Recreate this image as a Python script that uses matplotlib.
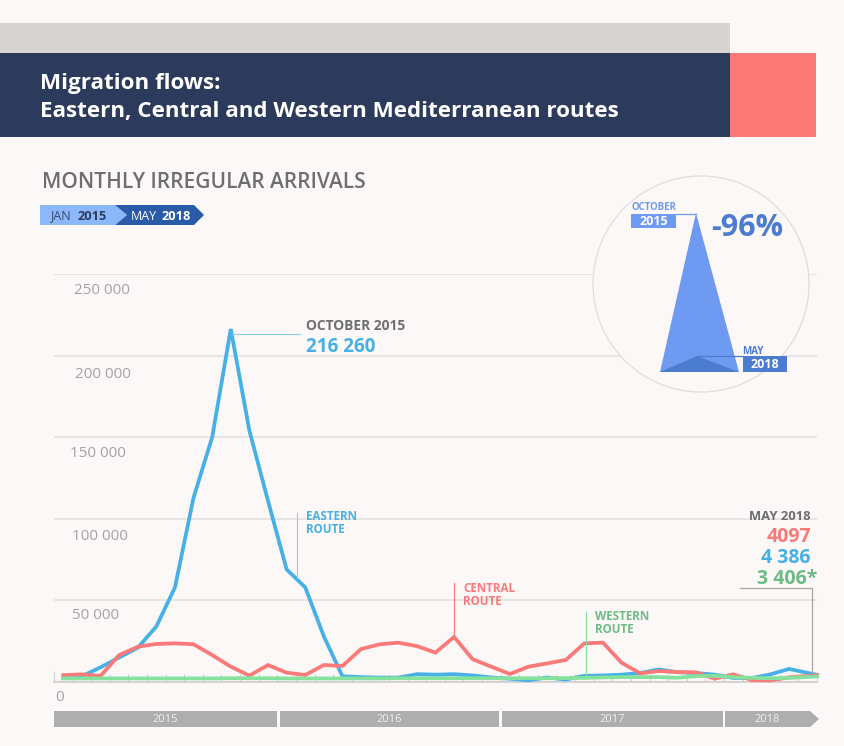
import matplotlib
matplotlib.use("Agg")
import matplotlib.pyplot as plt
from matplotlib.patches import Polygon, Rectangle, Circle
import numpy as np

BG = "#FCF8F7"
eastern = [2500, 3500, 9000, 15000, 21000, 34000, 58000, 113000, 150000, 216260,
           154000, 111000, 69000, 58000, 28000, 3500, 3000, 2700, 2700, 4800,
           4500, 4800, 4000, 2800, 2000, 1000, 2800, 1500, 3800, 4000,
           4500, 5500, 7700, 6000, 5500, 4500, 2500, 2400, 4700, 8000, 4386]
central = [4200, 4700, 3700, 16500, 21600, 23300, 23700, 23100, 16500, 9400,
           3900, 10400, 5700, 4300, 10400, 9800, 20200, 23100, 24100, 22000,
           18000, 27600, 13900, 9400, 4900, 9400, 11400, 13500, 23700, 24100,
           11800, 5300, 6700, 6100, 5900, 2000, 4700, 1200, 1000, 2900, 4097]
western = [2200, 2200, 2200, 2200, 2200, 2200, 2200, 2200, 2200, 2300,
           2300, 2300, 2200, 2200, 2200, 2200, 2200, 2200, 2300, 2300,
           2300, 2300, 2300, 2300, 2300, 2300, 2300, 2400, 2500, 2800,
           3000, 3000, 3000, 2600, 3600, 3800, 3000, 2500, 2300, 2500, 3406]
# The last month is drawn to the right end of the time band
months = np.r_[np.arange(40), 40.5]
y_ticks = [0, 50000, 100000, 150000, 200000, 250000]
y_labels = [("250 000", 74, 289), ("200 000", 75, 373), ("150 000", 70, 452),
            ("100 000", 72, 535), ("50 000", 72, 614), ("0", 55, 696)]
years = [("2015", 54, 277), ("2016", 280, 499), ("2017", 502, 723), ("2018", 725, 810)]

W, H = 845, 746
fig = plt.figure(figsize=(W / 100, H / 100), dpi=100, facecolor=BG)
plt.rcParams["font.family"] = ["Open Sans", "DejaVu Sans"]

# Data axes
L, R, T, B = 54, 817, 274, 682
ax = fig.add_axes([L / W, 1 - B / H, (R - L) / W, (B - T) / H], zorder=1, facecolor="none")
ax.set_xlim(-0.5, 40.5)
ax.set_ylim(0, 250000)
ax.set_axisbelow(True)
ax.set_yticks(y_ticks)
ax.set_yticklabels([])
ax.tick_params(axis="y", length=0)
ax.set_xticks(np.arange(-0.5, 41))
ax.set_xticklabels([])
ax.tick_params(axis="x", direction="in", length=6, width=0.7, color="#CFCBCA")
ax.grid(axis="y", color="#E2DFDE", lw=1.1)
for s in ["top", "right"]:
    ax.spines[s].set_visible(False)
ax.spines["left"].set_color("#D5D2D1")
ax.spines["left"].set_bounds(0, 6000)
ax.spines["bottom"].set_color("#D0CDCC")
ax.spines["bottom"].set_linewidth(1.2)
for vals, c in [(eastern, "#47B0E6"), (central, "#F97A78"), (western, "#85E29C")]:
    ax.plot(months, vals, color=c, lw=2.7, solid_joinstyle="miter", clip_on=False, zorder=3)

# Overlay in pixel coordinates
ov = fig.add_axes([0, 0, 1, 1], zorder=2, facecolor="none")
ov.set_xlim(0, W)
ov.set_ylim(H, 0)
ov.axis("off")

def rect(x0, y0, x1, y1, c, **k):
    ov.add_patch(Rectangle((x0, y0), x1 - x0, y1 - y0, fc=c, ec="none", **k))

def txt(x, y, s, c, size, weight="normal", ha="left", **k):
    return ov.text(x, y + 1.5, s, color=c, fontsize=size, fontweight=weight, ha=ha, va="center", **k)

# Header
rect(0, 23, 730, 53, "#D8D4D3")
rect(0, 53, 730, 137, "#2C3B5C")
rect(730, 53, 816, 137, "#FA7875")
txt(40, 81.5, "Migration flows:", "white", 16.1, "bold")
txt(40, 110.5, "Eastern, Central and Western Mediterranean routes", "white", 16.1, "bold")
txt(42, 181.5, "MONTHLY IRREGULAR ARRIVALS", "#6E6E6E", 15, "semibold")

# Period pill
ov.add_patch(Polygon([(40, 205), (115, 205), (127, 215), (115, 225), (40, 225)], fc="#8AB8FB", ec="none"))
ov.add_patch(Polygon([(115, 205), (194, 205), (204, 215), (194, 225), (115, 225), (127, 215)], fc="#2A5BA8", ec="none"))
txt(50, 214.5, "JAN", "#3A4A6B", 9)
txt(78, 214.5, "2015", "#2C3B5C", 9.2, "bold")
txt(131, 214.5, "MAY", "white", 9)
txt(162, 214.5, "2018", "white", 9.2, "bold")

# Y labels
for s, x, y in y_labels:
    txt(x, y, s, "#A3A3A3", 11)

# Year band
for i, (s, x0, x1) in enumerate(years):
    if s == "2018":
        ov.add_patch(Polygon([(x0, 711), (x1, 711), (819, 719), (x1, 727), (x0, 727)], fc="#AEAEAE", ec="none"))
        cx = 767
    else:
        rect(x0, 711, x1, 727, "#AEAEAE")
        cx = (x0 + x1) / 2
    txt(cx, 718.5, s, "#F2F0EF", 8, ha="center")

# Peak annotation
ov.plot([232, 300], [334, 334], color="#8ACDEF", lw=0.8)
txt(306, 324.5, "OCTOBER 2015", "#6E6E6E", 9.9, "bold")
txt(306, 345, "216 260", "#47B0E6", 13.6, "bold")

# Route labels
ov.plot([297, 297], [513, 578], color="#8ACDEF", lw=0.8)
txt(306, 515, "EASTERN", "#47B0E6", 8.4, "bold")
txt(306, 528, "ROUTE", "#47B0E6", 8.4, "bold")
ov.plot([454.5, 454.5], [583, 636], color="#F97A78", lw=0.8)
txt(463, 587, "CENTRAL", "#F97A78", 8.4, "bold")
txt(463, 600, "ROUTE", "#F97A78", 8.4, "bold")
ov.plot([586, 586], [612, 675], color="#85E29C", lw=0.8)
txt(595, 615, "WESTERN", "#6DBB85", 8.4, "bold")
txt(595, 628, "ROUTE", "#6DBB85", 8.4, "bold")

# May 2018
txt(811, 515, "MAY 2018", "#6E6E6E", 9.4, "bold", ha="right")
txt(811, 535.5, "4097", "#F97A78", 14, "bold", ha="right")
txt(811, 556.5, "4 386", "#47B0E6", 14, "bold", ha="right")
txt(817, 577.5, "3 406*", "#6DBB85", 14, "bold", ha="right")
ov.plot([740, 812, 812], [588, 588, 675], color="#A8A6A5", lw=0.9)

# Inset circle
ov.add_patch(Circle((701, 284), 108, fc=BG, ec="#E0DDDC", lw=0.9))
ov.add_patch(Polygon([(660, 372), (696, 213), (739, 372)], fc="#6F9AF2", ec="none"))
ov.add_patch(Polygon([(660, 372), (697, 356), (739, 372)], fc="#4C7CCF", ec="none"))
rect(631, 213.5, 676, 228, "#6F9AF2")
ov.plot([676, 696], [213.5, 213.5], color="#6F9AF2", lw=0.9)
ov.plot([697, 743], [356, 356], color="#4C7CCF", lw=0.9)
rect(743, 356, 787, 372, "#4C7CCF")
txt(653.5, 220, "2015", "white", 9, "bold", ha="center")
txt(765, 363.5, "2018", "white", 9, "bold", ha="center")
txt(631.5, 206.5, "OCTOBER", "#6F9AF2", 6.9, "bold")
txt(742, 349.5, "MAY", "#4C7CCF", 7, "bold")
txt(711, 226, "-96%", "#4C7CCF", 22, "bold")

fig.savefig("out.png", dpi=100, facecolor=BG)
